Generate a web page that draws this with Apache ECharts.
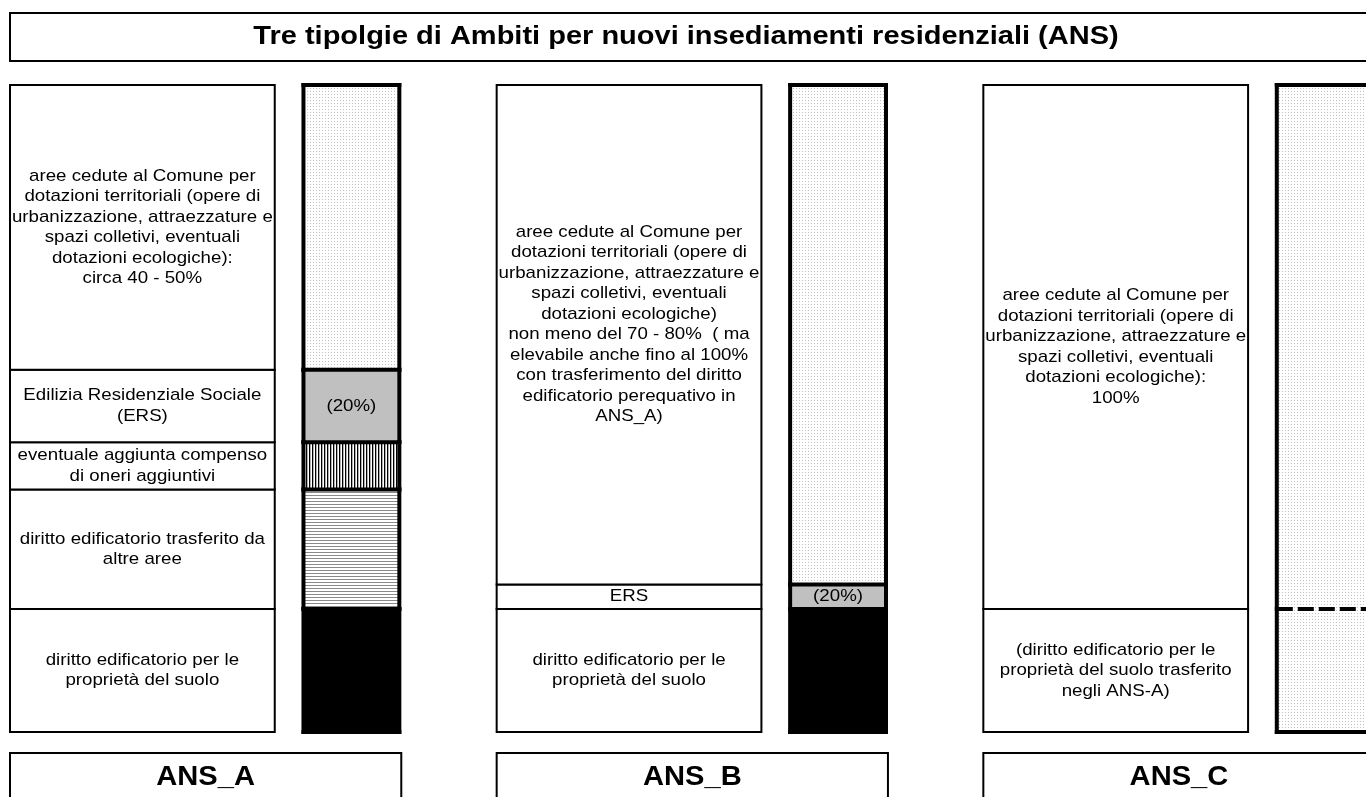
<!DOCTYPE html>
<html>
<head>
<meta charset="utf-8">
<script src="https://cdn.jsdelivr.net/npm/echarts@6/dist/echarts.min.js"></script>
<style>
html,body{margin:0;padding:0;background:#fff;}
#chart{width:1366px;height:797px;}
</style>
</head>
<body>
<div id="chart"></div>
<script>
// ---------- DATA ----------
const TITLE = 'Tre tipolgie di Ambiti per nuovi insediamenti residenziali (ANS)';
const categories = ['ANS_A', 'ANS_B', 'ANS_C'];

// share of each ambito (bottom -> top), in % of the column height
const sharesA = [19, 18.5, 7.3, 11.2, 44];
const sharesB = [19, 3.8, 77.2];
const sharesC = [19, 81];

// semantic kind of each segment (bottom -> top)
const kindsA = ['proprieta', 'trasferito', 'oneri', 'ers', 'cedute'];
const kindsB = ['proprieta', 'ers', 'cedute'];
const kindsC = ['proprietaTrasferita', 'cedute'];

const textsA = [
  'diritto edificatorio per le\nproprietà del suolo',
  'diritto edificatorio trasferito da\naltre aree',
  'eventuale aggiunta compenso\ndi oneri aggiuntivi',
  'Edilizia Residenziale Sociale\n(ERS)',
  'aree cedute al Comune per\ndotazioni territoriali (opere di\nurbanizzazione, attraezzature e\nspazi colletivi, eventuali\ndotazioni ecologiche):\ncirca 40 - 50%'
];
const textsB = [
  'diritto edificatorio per le\nproprietà del suolo',
  'ERS',
  'aree cedute al Comune per\ndotazioni territoriali (opere di\nurbanizzazione, attraezzature e\nspazi colletivi, eventuali\ndotazioni ecologiche)\nnon meno del 70 - 80%  ( ma\nelevabile anche fino al 100%\ncon trasferimento del diritto\nedificatorio perequativo in\nANS_A)\n'
];
const textsC = [
  '(diritto edificatorio per le\nproprietà del suolo trasferito\nnegli ANS-A)',
  'aree cedute al Comune per\ndotazioni territoriali (opere di\nurbanizzazione, attraezzature e\nspazi colletivi, eventuali\ndotazioni ecologiche):\n100%'
];
const barLabelsA = ['', '', '', '(20%)', ''];
const barLabelsB = ['', '(20%)', ''];
const barLabelsC = ['', ''];

// ---------- STYLES ----------
const FONT = '"Liberation Sans", Arial, Helvetica, sans-serif';
const TEXT_STRETCH = 1.1;
function makePattern(w, h, draw) {
  const cv = document.createElement('canvas');
  cv.width = w; cv.height = h;
  const ctx = cv.getContext('2d');
  ctx.fillStyle = '#ffffff';
  ctx.fillRect(0, 0, w, h);
  draw(ctx);
  return { image: cv, repeat: 'repeat' };
}
const PAT_DOTS = makePattern(3, 3, ctx => { ctx.fillStyle = '#c2c2c2'; ctx.fillRect(1, 1, 1, 1); });
const PAT_VLINES = makePattern(3, 3, ctx => { ctx.fillStyle = '#000'; ctx.fillRect(0, 0, 1, 3); ctx.fillStyle = '#b0b0b0'; ctx.fillRect(1, 0, 1, 3); });
const PAT_HLINES = makePattern(3, 3, ctx => { ctx.fillStyle = '#8a8a8a'; ctx.fillRect(0, 0, 3, 1); });
const FILL = {
  proprieta: '#000000',
  trasferito: PAT_HLINES,
  oneri: PAT_VLINES,
  ers: '#c0c0c0',
  cedute: PAT_DOTS,
  proprietaTrasferita: PAT_DOTS
};
const DASHED_TOP = { proprietaTrasferita: true };

// layout fractions inside each category band
const BOX_FROM = 0.0, BOX_TO = 0.544;
const BAR_FROM = 0.603, BAR_TO = 0.8;
const LABEL_TO = 0.804;

// ---------- BUILD ----------
const SHARES = [sharesA, sharesB, sharesC];
const KINDS = [kindsA, kindsB, kindsC];
const TEXTS = [textsA, textsB, textsC];
const BARLABELS = [barLabelsA, barLabelsB, barLabelsC];
const segs = [];
categories.forEach((cat, c) => {
  let acc = 0;
  SHARES[c].forEach((v, i) => {
    segs.push({ c, start: acc, end: acc + v, kind: KINDS[c][i], text: TEXTS[c][i],
      bar: BARLABELS[c][i], first: i === 0 });
    acc += v;
  });
});

const chart = echarts.init(document.getElementById('chart'), null, { renderer: 'canvas' });

function renderSegment(params, api) {
  const s = segs[params.dataIndex];
  const c = api.value(0);
  const pB = api.coord([c, api.value(1)]);
  const pT = api.coord([c, api.value(2)]);
  const band = api.size([1, 0])[0];
  const x0 = pB[0] - band / 2;
  const yB = pB[1], yT = pT[1];
  const bx0 = x0 + band * BOX_FROM, bx1 = x0 + band * BOX_TO;
  const rx0 = x0 + band * BAR_FROM, rx1 = x0 + band * BAR_TO;
  const children = [];
  // text box
  children.push({ type: 'rect', z2: 1,
    shape: { x: bx0, y: yT, width: bx1 - bx0, height: yB - yT },
    style: { fill: '#fff', stroke: '#000', lineWidth: 2 } });
  children.push({ type: 'text', z2: 2, x: (bx0 + bx1) / 2, y: (yT + yB) / 2, scaleX: TEXT_STRETCH,
    style: { text: s.text, align: 'center', verticalAlign: 'middle', fill: '#000',
      fontSize: 17, fontFamily: FONT, lineHeight: 20.5 } });
  // bar fill
  children.push({ type: 'rect', z2: 3,
    shape: { x: rx0, y: yT, width: rx1 - rx0, height: yB - yT },
    style: { fill: FILL[s.kind] } });
  // bar borders
  const ls = { stroke: '#000', lineWidth: 4 };
  children.push({ type: 'line', z2: 5, shape: { x1: rx0, y1: yT - 2, x2: rx0, y2: yB + 2 }, style: ls });
  children.push({ type: 'line', z2: 5, shape: { x1: rx1, y1: yT - 2, x2: rx1, y2: yB + 2 }, style: ls });
  if (DASHED_TOP[s.kind]) {
    children.push({ type: 'line', z2: 6, shape: { x1: rx0, y1: yT, x2: rx1, y2: yT },
      style: { stroke: '#000', lineWidth: 4, lineDash: [16, 5] } });
  } else {
    children.push({ type: 'line', z2: 5, shape: { x1: rx0 - 2, y1: yT, x2: rx1 + 2, y2: yT }, style: ls });
  }
  if (s.first) {
    children.push({ type: 'line', z2: 5, shape: { x1: rx0 - 2, y1: yB, x2: rx1 + 2, y2: yB }, style: ls });
  }
  if (s.bar) {
    children.push({ type: 'text', z2: 7, x: (rx0 + rx1) / 2, y: (yT + yB) / 2, scaleX: TEXT_STRETCH,
      style: { text: s.bar, align: 'center', verticalAlign: 'middle', fill: '#000',
        fontSize: 17, fontFamily: FONT } });
  }
  return { type: 'group', children };
}

function renderLabel(params, api) {
  const c = api.value(0);
  const p = api.coord([c, 0]);
  const band = api.size([1, 0])[0];
  const x0 = p[0] - band / 2;
  const x1 = x0 + band * LABEL_TO;
  const top = p[1] + 21;
  return { type: 'group', children: [
    { type: 'rect', shape: { x: x0, y: top, width: x1 - x0, height: 50 },
      style: { fill: '#fff', stroke: '#000', lineWidth: 2 } },
    { type: 'text', x: (x0 + x1) / 2, y: top + 24, scaleX: 1.04,
      style: { text: categories[c], align: 'center', verticalAlign: 'middle', fill: '#000',
        fontSize: 28, fontWeight: 'bold', fontFamily: FONT } }
  ] };
}

chart.setOption({
  animation: false,
  backgroundColor: '#fff',
  grid: { left: 10, top: 85, right: -104, bottom: 65, containLabel: false, outerBoundsMode: 'none' },
  xAxis: { type: 'category', data: categories, show: false, boundaryGap: true },
  yAxis: { type: 'value', min: 0, max: 100, show: false },
  graphic: [
    { type: 'rect', shape: { x: 10, y: 13, width: 1420, height: 48 },
      style: { fill: '#fff', stroke: '#000', lineWidth: 2 } },
    { type: 'text', x: 686, y: 37, scaleX: 1.16,
      style: { text: TITLE, align: 'center', verticalAlign: 'middle', fill: '#000',
        fontSize: 25, fontWeight: 'bold', fontFamily: FONT } }
  ],
  series: [
    { type: 'custom', name: 'segments', renderItem: renderSegment, clip: false,
      data: segs.map(s => [s.c, s.start, s.end]) },
    { type: 'custom', name: 'labels', renderItem: renderLabel, clip: false,
      data: categories.map((c, i) => [i]) }
  ]
});
</script>
</body>
</html>
